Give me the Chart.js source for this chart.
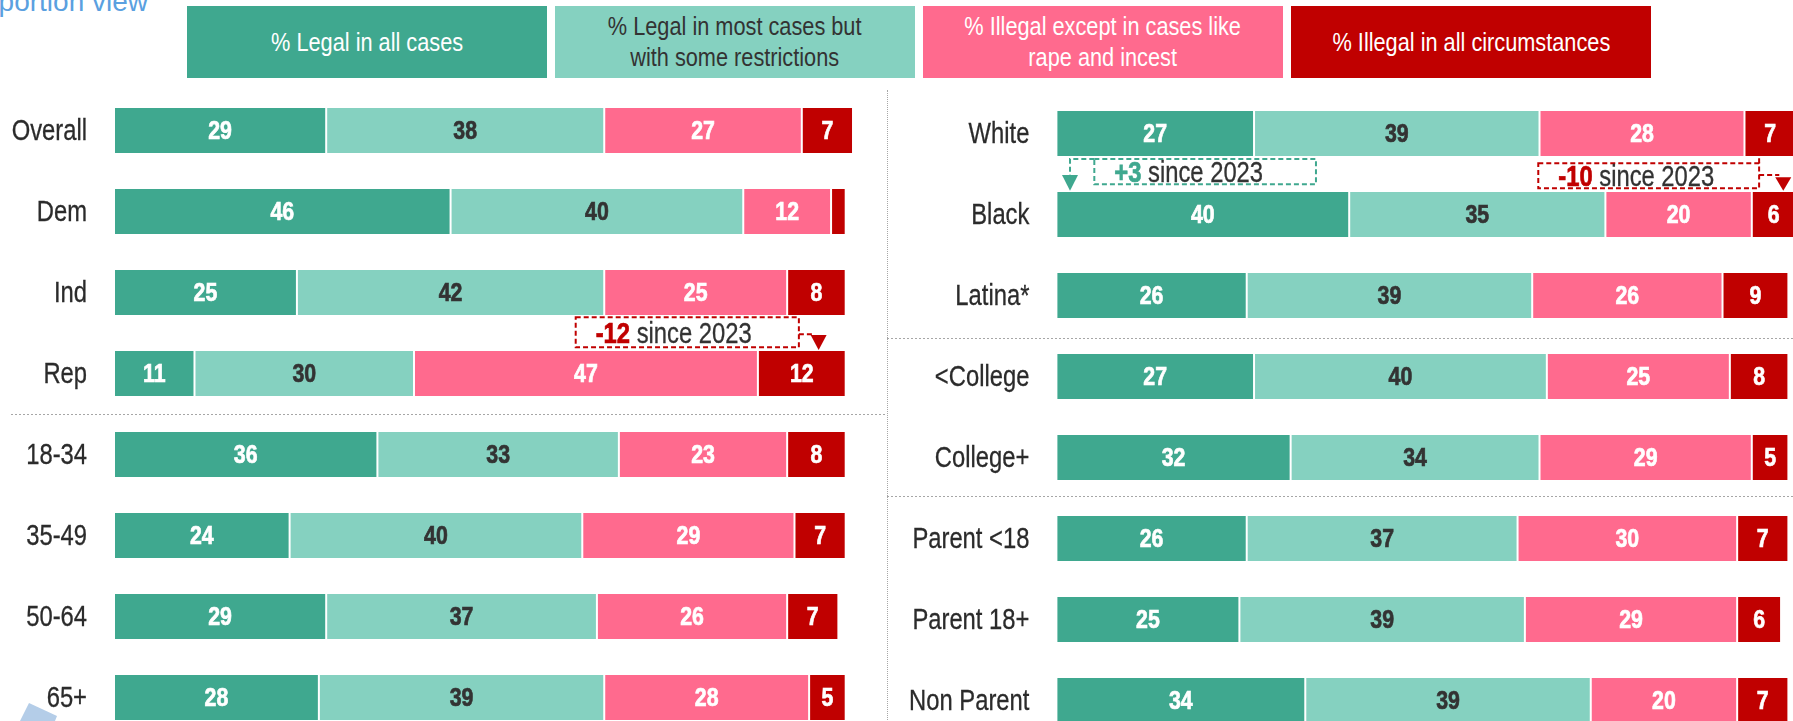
<!DOCTYPE html>
<html>
<head>
<meta charset="utf-8">
<script src="https://cdn.jsdelivr.net/npm/chart.js@4.4.1/dist/chart.umd.min.js"></script>
<style>
  html, body { margin: 0; padding: 0; background: #fff; }
  body { width: 1793px; height: 721px; position: relative; overflow: hidden;
         font-family: 'Liberation Sans', Arial, sans-serif; }
  #title { position: absolute; top: -14px; right: 1645px; white-space: nowrap; line-height: normal;
           font-size: 28px; color: #5aa0e0; }
  .legend-box { position: absolute; top: 6px; height: 72px; width: 360px;
                display: flex; align-items: center; justify-content: center; }
  .legend-box span { display: inline-block; text-align: center; white-space: pre; font-size: 26.5px;
                     line-height: 31px; transform: scaleX(0.82); }
  #divider { position: absolute; left: 887px; top: 90px; height: 640px; border-left: 1px dotted #a6a6a6; }
  #leftChart { position: absolute; left: 0; top: 90px; }
  #rightChart { position: absolute; left: 887px; top: 93px; }
  #deco { position: absolute; left: 0; top: 690px; width: 70px; height: 31px; background: #b4cde8;
          clip-path: polygon(20px 31px, 29px 13px, 57px 26px, 55px 31px); }
</style>
</head>
<body>
<div id="title">Proportion view</div>
<div id="legend"></div>
<div id="divider"></div>
<div id="deco"></div>
<canvas id="leftChart" width="887" height="648"></canvas>
<canvas id="rightChart" width="906" height="648"></canvas>
<script>
// series
const seriesNames = ['% Legal in all cases', '% Legal in most cases but\nwith some restrictions',
                     '% Illegal except in cases like\nrape and incest', '% Illegal in all circumstances'];
const seriesColors = ['#3fa88f', '#85d1c0', '#ff6a8e', '#c00000'];
const legendTextColors = ['#ffffff', '#333333', '#ffffff', '#ffffff'];
const labelColors = ['#ffffff', '#333333', '#ffffff', '#ffffff'];

// left panel: party + age
const categoriesLeft = ['Overall', 'Dem', 'Ind', 'Rep', '18-34', '35-49', '50-64', '65+'];
const legalAllLeft = [29, 46, 25, 11, 36, 24, 29, 28];
const legalMostLeft = [38, 40, 42, 30, 33, 40, 37, 39];
const illegalExceptLeft = [27, 12, 25, 47, 23, 29, 26, 28];
const illegalAllLeft = [7, 2, 8, 12, 8, 7, 7, 5];

// right panel: race, education, parents
const categoriesRight = ['White', 'Black', 'Latina*', '<College', 'College+', 'Parent <18', 'Parent 18+', 'Non Parent'];
const legalAllRight = [27, 40, 26, 27, 32, 26, 25, 34];
const legalMostRight = [39, 35, 39, 40, 34, 37, 39, 39];
const illegalExceptRight = [28, 20, 26, 25, 29, 30, 29, 20];
const illegalAllRight = [7, 6, 9, 8, 5, 7, 6, 7];

const FONT = "'Liberation Sans', Arial, sans-serif";
const SQUEEZE = 0.82; // no Arial Narrow here, so squeeze Liberation Sans
const RED = '#c00000';
const GREEN = '#3fa88f';

// legend boxes
const legend = document.getElementById('legend');
seriesNames.forEach((name, i) => {
  const box = document.createElement('div');
  box.className = 'legend-box';
  box.style.left = (187 + i * 368) + 'px';
  box.style.background = seriesColors[i];
  box.style.color = legendTextColors[i];
  const span = document.createElement('span');
  span.textContent = name;
  box.appendChild(span);
  legend.appendChild(box);
});

function narrowText(ctx, text, x, y, align, heavy) {
  ctx.save();
  ctx.translate(x, y);
  ctx.scale(SQUEEZE, 1);
  ctx.textAlign = align;
  ctx.fillText(text, 0, 0);
  if (heavy) {
    // squeezing thins the stems, put a bit of weight back
    ctx.strokeStyle = ctx.fillStyle;
    ctx.lineWidth = heavy;
    ctx.strokeText(text, 0, 0);
  }
  ctx.restore();
}

// category names + numbers inside the segments
const segmentLabels = {
  id: 'segmentLabels',
  afterDatasetsDraw(chart) {
    const ctx = chart.ctx, ys = chart.scales.y;
    ctx.save();
    ctx.textBaseline = 'middle';
    ctx.font = '29px ' + FONT;
    ctx.fillStyle = '#2b2b2b';
    chart.data.labels.forEach((lab, j) => {
      narrowText(ctx, lab, chart.chartArea.left - 27, ys.getPixelForValue(j) + 1, 'right', 0.3);
    });
    ctx.font = 'bold 26px ' + FONT;
    chart.data.datasets.forEach((ds, i) => {
      chart.getDatasetMeta(i).data.forEach((bar, j) => {
        const v = ds.data[j];
        if (v < 3) return;
        ctx.fillStyle = labelColors[i];
        narrowText(ctx, String(v), (bar.x + bar.base) / 2, bar.y + 1, 'center', 0.7);
      });
    });
    ctx.restore();
  }
};

// dotted lines between groups
const separators = {
  id: 'separators',
  beforeDatasetsDraw(chart, args, opts) {
    const ctx = chart.ctx, y = chart.scales.y;
    ctx.save();
    ctx.strokeStyle = '#a6a6a6';
    ctx.lineWidth = 1;
    ctx.setLineDash([2, 2]);
    (opts.after || []).forEach((r, k) => {
      const mid = (y.getPixelForValue(r) + y.getPixelForValue(r + 1)) / 2 + ((opts.nudge || [])[k] || 0);
      const py = Math.round(mid) + 0.5;
      ctx.beginPath();
      ctx.moveTo(opts.x0, py);
      ctx.lineTo(opts.x1, py);
      ctx.stroke();
    });
    ctx.restore();
  }
};

// "since 2023" call-outs
const notesPlugin = {
  id: 'notes',
  afterDraw(chart, args, opts) {
    const ctx = chart.ctx, xs = chart.scales.x, ys = chart.scales.y;
    (opts.items || []).forEach(n => {
      const cy = ys.getPixelForValue(n.row);
      const x0 = xs.getPixelForValue(n.from), x1 = xs.getPixelForValue(n.to);
      const y0 = cy + n.top, y1 = cy + n.bottom;
      const ax = xs.getPixelForValue(n.arrowAt);
      ctx.save();
      ctx.strokeStyle = n.color;
      ctx.fillStyle = n.color;
      ctx.lineWidth = 2;
      ctx.setLineDash([5, 3]);
      ctx.strokeRect(x0, y0, x1 - x0, y1 - y0);
      ctx.beginPath();
      if (n.side === 'left') {
        ctx.moveTo(x0, y0);
        ctx.lineTo(ax, y0);
        ctx.lineTo(ax, cy + n.headTop);
      } else {
        ctx.moveTo(x1, cy + n.lineY);
        ctx.lineTo(ax - 4, cy + n.lineY);
        if (n.stub) { ctx.moveTo(x1, y0); ctx.lineTo(x1, y0 - n.stub); }
      }
      ctx.stroke();
      ctx.setLineDash([]);
      ctx.beginPath();
      ctx.moveTo(ax - 8, cy + n.headTop);
      ctx.lineTo(ax + 8, cy + n.headTop);
      ctx.lineTo(ax, cy + n.tip);
      ctx.closePath();
      ctx.fill();

      const base = (y0 + y1) / 2 + 10.5;
      let tx = x0 + 20;
      ctx.textBaseline = 'alphabetic';
      ctx.font = 'bold 29px ' + FONT;
      narrowText(ctx, n.change, tx, base, 'left', 0.7);
      tx += ctx.measureText(n.change).width * SQUEEZE;
      ctx.font = '29px ' + FONT;
      ctx.fillStyle = '#333333';
      narrowText(ctx, ' since 2023', tx, base, 'left', 0.3);
      ctx.restore();
    });
  }
};

function makeChart(id, labels, series, axisWidth, rightPad, notes, sepOpts) {
  return new Chart(document.getElementById(id), {
    type: 'bar',
    data: {
      labels: labels,
      datasets: series.map((d, i) => ({
        label: seriesNames[i].replace('\n', ' '),
        data: d,
        backgroundColor: seriesColors[i],
        borderColor: '#ffffff',
        borderWidth: { left: 1, right: 1, top: 0, bottom: 0 },
        borderSkipped: false,
        barPercentage: 0.555,
        categoryPercentage: 1,
        clip: false
      }))
    },
    options: {
      indexAxis: 'y',
      responsive: false,
      animation: false,
      devicePixelRatio: 1,
      layout: { padding: { left: 0, right: rightPad, top: 0, bottom: 0 } },
      scales: {
        x: { stacked: true, min: 0, max: 100, display: false },
        y: {
          stacked: true,
          grid: { display: false, drawTicks: false },
          border: { display: false },
          ticks: { display: false },
          afterFit(scale) {
            scale.width = axisWidth;
            scale.paddingTop = 0;
            scale.paddingBottom = 0;
          }
        }
      },
      plugins: {
        legend: { display: false },
        tooltip: { enabled: false },
        notes: { items: notes },
        separators: sepOpts
      }
    },
    plugins: [separators, segmentLabels, notesPlugin]
  });
}

makeChart('leftChart', categoriesLeft,
  [legalAllLeft, legalMostLeft, illegalExceptLeft, illegalAllLeft],
  114, 41.3,
  [{ row: 3, change: '-12', color: RED, side: 'right', from: 63.1, to: 93.6,
     top: -56.2, bottom: -26.2, lineY: -39.2, arrowAt: 96.3, headTop: -38.5, tip: -23.5 }],
  { after: [3], x0: 11, x1: 887 });

makeChart('rightChart', categoriesRight,
  [legalAllRight, legalMostRight, illegalExceptRight, illegalAllRight],
  169.4, 4.6,
  [{ row: 1, change: '+3', color: GREEN, side: 'left', from: 5.18, to: 35.46,
     top: -55.5, bottom: -30.2, arrowAt: 1.86, headTop: -39.5, tip: -23.8 },
   { row: 1, change: '-10', color: RED, side: 'right', from: 65.83, to: 96.0,
     top: -51.2, bottom: -26.2, lineY: -39.5, arrowAt: 99.3, headTop: -37.2, tip: -23.8, stub: 6 }],
  { after: [2, 4], nudge: [2, -2], x0: 0, x1: 906 });
</script>
</body>
</html>
